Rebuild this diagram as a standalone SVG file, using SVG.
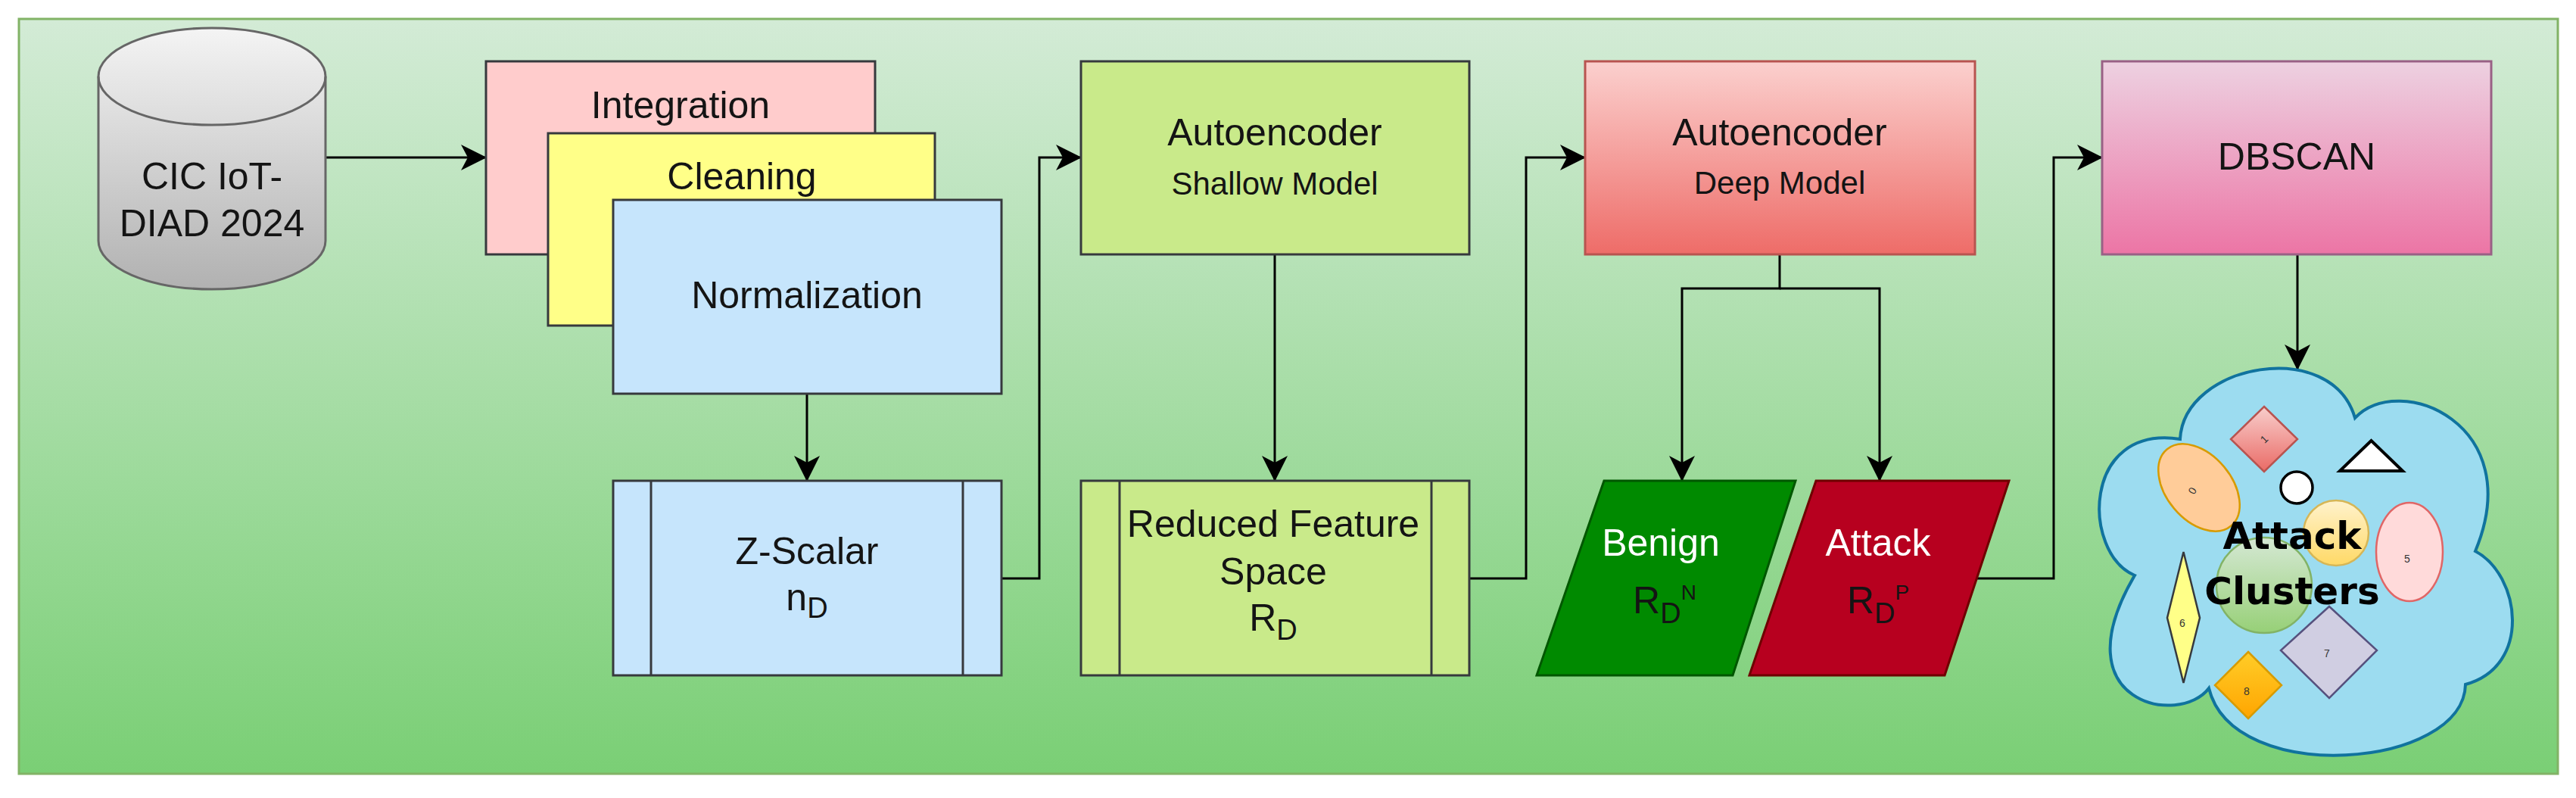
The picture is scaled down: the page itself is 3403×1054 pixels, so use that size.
<svg xmlns="http://www.w3.org/2000/svg" width="3403" height="1054" viewBox="0 0 3403 1054">
<defs>
  <linearGradient id="gBg" x1="0" y1="0" x2="0" y2="1">
    <stop offset="0" stop-color="#d3ebd6"/>
    <stop offset="1" stop-color="#7acf75"/>
  </linearGradient>
  <linearGradient id="gCyl" x1="0" y1="0" x2="0" y2="1">
    <stop offset="0" stop-color="#f4f4f4"/>
    <stop offset="1" stop-color="#b1b1b1"/>
  </linearGradient>
  <linearGradient id="gDeep" x1="0" y1="0" x2="0" y2="1">
    <stop offset="0" stop-color="#fbd0ce"/>
    <stop offset="1" stop-color="#ee6c68"/>
  </linearGradient>
  <linearGradient id="gDb" x1="0" y1="0" x2="0" y2="1">
    <stop offset="0" stop-color="#edd1e1"/>
    <stop offset="1" stop-color="#ec75a5"/>
  </linearGradient>
  <linearGradient id="gRed" x1="0" y1="0" x2="0" y2="1">
    <stop offset="0" stop-color="#f8cecc"/>
    <stop offset="1" stop-color="#ea6b66"/>
  </linearGradient>
  <linearGradient id="gYel" x1="0" y1="0" x2="0" y2="1">
    <stop offset="0" stop-color="#fff2cc"/>
    <stop offset="1" stop-color="#ffd966"/>
  </linearGradient>
  <linearGradient id="gGrn" x1="0" y1="0" x2="0" y2="1">
    <stop offset="0" stop-color="#d5e8d4"/>
    <stop offset="1" stop-color="#97d077"/>
  </linearGradient>
  <linearGradient id="gOra" x1="0" y1="0" x2="0" y2="1">
    <stop offset="0" stop-color="#ffcd28"/>
    <stop offset="1" stop-color="#ffa500"/>
  </linearGradient>
  <marker id="arr" viewBox="0 0 34 34" refX="33" refY="17" markerWidth="34" markerHeight="34" markerUnits="userSpaceOnUse" orient="auto">
    <path d="M0,0 L34,17 L0,34 L9,17 Z" fill="#000"/>
  </marker>
</defs>
<style>
  .box{stroke:#36393d;stroke-width:3}
  .t{font-family:"Liberation Sans",Arial,sans-serif;font-size:50px;fill:#141414;text-anchor:middle}
  .s{font-size:42px}
  .w{fill:#ffffff}
  .c{fill:none;stroke:#000;stroke-width:3;marker-end:url(#arr)}
  .n{font-family:"Liberation Sans",Arial,sans-serif;font-size:14px;fill:#333;text-anchor:middle}
  .sh{stroke-width:2.5}
</style>

<rect id="background" x="25" y="25" width="3354" height="997" fill="url(#gBg)" stroke="#82b366" stroke-width="3"/>

<g id="connectors">
  <path class="c" d="M430,208 L642,208"/>
  <path class="c" d="M1066,520 L1066,635"/>
  <path class="c" d="M1323,764 L1373,764 L1373,208 L1428,208"/>
  <path class="c" d="M1684,336 L1684,635"/>
  <path class="c" d="M1941,764 L2016,764 L2016,208 L2094,208"/>
  <path class="c" d="M2351,336 L2351,381 L2222,381 L2222,635"/>
  <path class="c" d="M2351,381 L2483,381 L2483,635"/>
  <path class="c" d="M2611,764 L2713,764 L2713,208 L2777,208"/>
  <path class="c" d="M3035,336 L3035,488"/>
</g>

<g id="dataset">
  <path d="M130,101 A150,64 0 0 1 430,101 L430,318 A150,64 0 0 1 130,318 Z" fill="url(#gCyl)" stroke="#666666" stroke-width="3"/>
  <path d="M130,101 A150,64 0 0 0 430,101" fill="none" stroke="#666666" stroke-width="3"/>
  <text class="t" x="280" y="250">CIC IoT-</text>
  <text class="t" x="280" y="312">DIAD 2024</text>
</g>

<g id="integration">
  <rect class="box" x="642" y="81" width="514" height="255" fill="#ffcccc"/>
  <text class="t" x="899" y="156">Integration</text>
</g>

<g id="cleaning">
  <rect class="box" x="724" y="176" width="511" height="254" fill="#ffff88"/>
  <text class="t" x="980" y="250">Cleaning</text>
</g>

<g id="normalization">
  <rect class="box" x="810" y="264" width="513" height="256" fill="#c6e5fc"/>
  <text class="t" x="1066" y="407">Normalization</text>
</g>

<g id="zscalar">
  <rect class="box" x="810" y="635" width="513" height="257" fill="#c6e5fc"/>
  <line class="box" x1="860" y1="635" x2="860" y2="892"/>
  <line class="box" x1="1272" y1="635" x2="1272" y2="892"/>
  <text class="t" x="1066" y="745">Z-Scalar</text>
  <text class="t" x="1066" y="806">n<tspan font-size="38" dy="10">D</tspan></text>
</g>

<g id="ae-shallow">
  <rect class="box" x="1428" y="81" width="513" height="255" fill="#c9ea8a"/>
  <text class="t" x="1684" y="192">Autoencoder</text>
  <text class="t s" x="1684" y="257">Shallow Model</text>
</g>

<g id="reduced">
  <rect class="box" x="1428" y="635" width="513" height="257" fill="#c9ea8a"/>
  <line class="box" x1="1479" y1="635" x2="1479" y2="892"/>
  <line class="box" x1="1891" y1="635" x2="1891" y2="892"/>
  <text class="t" x="1682" y="709">Reduced Feature</text>
  <text class="t" x="1682" y="772">Space</text>
  <text class="t" x="1682" y="833">R<tspan font-size="38" dy="12">D</tspan></text>
</g>

<g id="ae-deep">
  <rect x="2094" y="81" width="515" height="255" fill="url(#gDeep)" stroke="#b85450" stroke-width="3"/>
  <text class="t" x="2351" y="192">Autoencoder</text>
  <text class="t s" x="2351" y="256">Deep Model</text>
</g>

<g id="benign">
  <polygon points="2119,635 2372,635 2289,892 2030,892" fill="#008a00" stroke="#005700" stroke-width="3"/>
  <text class="t w" x="2194" y="734">Benign</text>
  <text class="t" x="2199" y="810" font-size="48">R<tspan font-size="38" dy="13">D</tspan><tspan font-size="28" dy="-31">N</tspan></text>
</g>

<g id="attack">
  <polygon points="2399,635 2654,635 2569,892 2311,892" fill="#b7001f" stroke="#6f0000" stroke-width="3"/>
  <text class="t w" x="2481" y="734">Attack</text>
  <text class="t" x="2481" y="810" font-size="48">R<tspan font-size="38" dy="13">D</tspan><tspan font-size="28" dy="-31">P</tspan></text>
</g>

<g id="dbscan">
  <rect x="2777" y="81" width="514" height="255" fill="url(#gDb)" stroke="#996185" stroke-width="3"/>
  <text class="t" x="3034" y="224">DBSCAN</text>
</g>

<g id="attack-clusters">
  <path d="M2880,580 C2885,480 3080,445 3111,552 C3170,490 3340,560 3270,728 C3330,760 3345,880 3257,904 C3255,1015 2950,1040 2918,909 C2880,960 2720,930 2820,760 C2750,730 2750,560 2880,580 Z" fill="#9cdcf0" stroke="#10739e" stroke-width="4"/>
  <polygon class="sh" points="2991,537 3035,580 2991,623 2947,580" fill="url(#gRed)" stroke="#b85450"/>
  <text class="n" x="2991" y="585" transform="rotate(-45 2991 580)">1</text>
  <ellipse class="sh" cx="2905" cy="644" rx="43" ry="66" transform="rotate(-40 2905 644)" fill="#ffcc99" stroke="#d79b00"/>
  <text class="n" x="2896" y="653" transform="rotate(-60 2896 648)">0</text>
  <circle cx="3034" cy="644" r="21" fill="#ffffff" stroke="#000" stroke-width="3.5"/>
  <polygon points="3091,622 3174,622 3132.5,582" fill="#ffffff" stroke="#000" stroke-width="4" stroke-linejoin="miter"/>
  <circle class="sh" cx="3086" cy="704" r="43" fill="url(#gYel)" stroke="#d6b656"/>
  <ellipse class="sh" cx="3183" cy="729" rx="44" ry="65" fill="#ffdada" stroke="#e06666"/>
  <text class="n" x="3180" y="743">5</text>
  <circle class="sh" cx="2991" cy="773" r="63" fill="url(#gGrn)" stroke="#82b366"/>
  <polygon class="sh" points="2884.5,729 2906,816 2884.5,902 2863,816" fill="#ffff88" stroke="#36393d"/>
  <text class="n" x="2883" y="828">6</text>
  <polygon class="sh" points="3077,801 3140,859 3077,922 3013,859" fill="#d0cee2" stroke="#56517e"/>
  <text class="n" x="3074" y="868">7</text>
  <polygon class="sh" points="2970,861 3014,905 2970,949 2926,905" fill="url(#gOra)" stroke="#d79b00"/>
  <text class="n" x="2968" y="918">8</text>
  <text x="3028" y="725" font-family="'DejaVu Sans',Verdana,sans-serif" font-weight="bold" font-size="50" fill="#000" text-anchor="middle">Attack</text>
  <text x="3028" y="798" font-family="'DejaVu Sans',Verdana,sans-serif" font-weight="bold" font-size="50" fill="#000" text-anchor="middle">Clusters</text>
</g>
</svg>
